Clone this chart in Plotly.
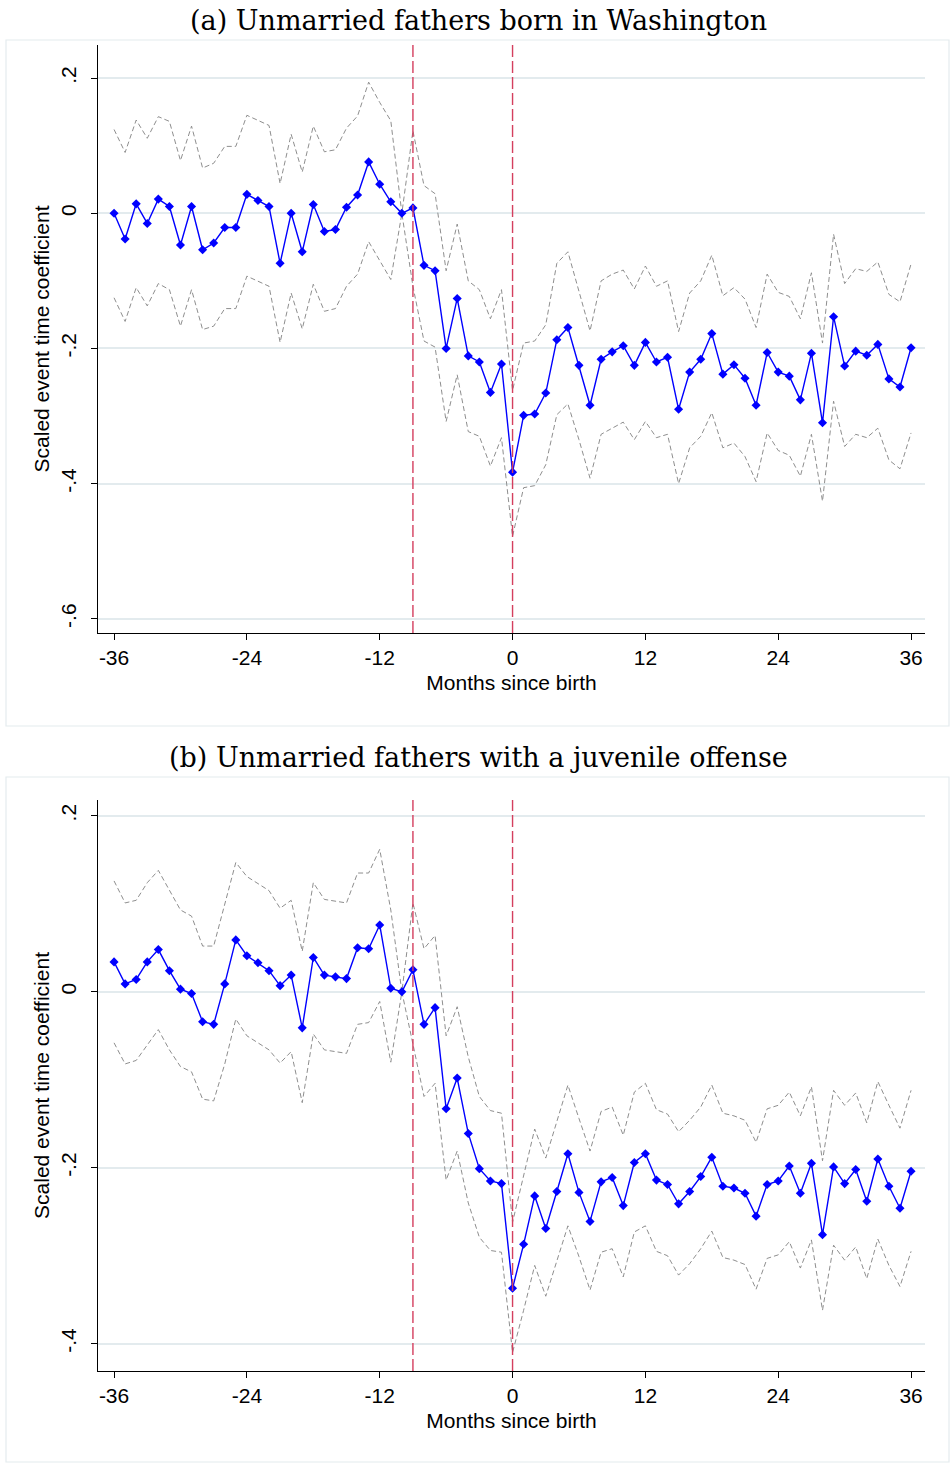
import plotly.graph_objects as go

# Event time in months relative to the birth
months = list(range(-36, 37))

# Panel (a): unmarried fathers born in Washington
a_est = [0, -0.038, 0.014, -0.015, 0.021, 0.010, -0.047, 0.010, -0.054, -0.044, -0.021, -0.021,
         0.028, 0.019, 0.010, -0.074, 0.0, -0.057,
         0.013, -0.027, -0.024, 0.009, 0.027, 0.076, 0.043, 0.017, 0.0, 0.008, -0.077, -0.085,
         -0.200, -0.126, -0.211, -0.220, -0.265, -0.223,
         -0.383,
         -0.299, -0.297, -0.266, -0.187, -0.169, -0.225, -0.284, -0.216, -0.205, -0.196, -0.225,
         -0.191, -0.220, -0.213, -0.290, -0.235, -0.216, -0.178,
         -0.238, -0.224, -0.244, -0.284, -0.206, -0.235, -0.241, -0.276, -0.207, -0.310, -0.153,
         -0.226, -0.204, -0.210, -0.194, -0.245, -0.257, -0.199]
a_hi = [0.124, 0.090, 0.138, 0.111, 0.143, 0.136, 0.078, 0.129, 0.067, 0.074, 0.099, 0.099,
        0.145, 0.137, 0.130, 0.044, 0.117, 0.061,
        0.129, 0.091, 0.094, 0.126, 0.144, 0.194, 0.164, 0.137, 0.0, 0.122, 0.041, 0.029,
        -0.085, -0.016, -0.100, -0.113, -0.156, -0.113,
        -0.262,
        -0.192, -0.189, -0.165, -0.074, -0.057, -0.115, -0.174, -0.100, -0.090, -0.084, -0.112,
        -0.078, -0.108, -0.100, -0.175, -0.118, -0.100, -0.062,
        -0.122, -0.110, -0.127, -0.169, -0.090, -0.117, -0.123, -0.156, -0.088, -0.192, -0.031,
        -0.104, -0.082, -0.086, -0.072, -0.120, -0.131, -0.075]
a_lo = [-0.125, -0.160, -0.110, -0.137, -0.104, -0.113, -0.167, -0.113, -0.172, -0.167, -0.141, -0.141,
        -0.093, -0.100, -0.108, -0.191, -0.118, -0.171,
        -0.105, -0.145, -0.141, -0.108, -0.090, -0.042, -0.071, -0.098, 0.0, -0.108, -0.189, -0.198,
        -0.308, -0.239, -0.323, -0.330, -0.374, -0.332,
        -0.478,
        -0.406, -0.403, -0.372, -0.298, -0.282, -0.335, -0.392, -0.327, -0.318, -0.309, -0.335,
        -0.308, -0.332, -0.327, -0.400, -0.347, -0.330, -0.295,
        -0.347, -0.340, -0.360, -0.397, -0.325, -0.351, -0.358, -0.389, -0.327, -0.426, -0.278,
        -0.345, -0.327, -0.332, -0.318, -0.365, -0.378, -0.325]

# Panel (b): unmarried fathers with a juvenile offense
b_est = [0.034, 0.009, 0.014, 0.034, 0.048, 0.024, 0.003, -0.002, -0.034, -0.037, 0.009, 0.059,
         0.041, 0.033, 0.024, 0.007, 0.019, -0.041,
         0.039, 0.019, 0.017, 0.015, 0.050, 0.049, 0.076, 0.004, 0.0, 0.025, -0.037, -0.018,
         -0.133, -0.098, -0.161, -0.201, -0.215, -0.218,
         -0.337,
         -0.287, -0.232, -0.269, -0.227, -0.184, -0.228, -0.261, -0.216, -0.211, -0.243, -0.194,
         -0.184, -0.214, -0.219, -0.241, -0.227, -0.210, -0.188,
         -0.221, -0.223, -0.229, -0.255, -0.219, -0.215, -0.198, -0.229, -0.195, -0.276, -0.199,
         -0.218, -0.202, -0.238, -0.190, -0.221, -0.246, -0.204]
b_hi = [0.126, 0.101, 0.104, 0.124, 0.138, 0.115, 0.093, 0.086, 0.052, 0.052, 0.101, 0.147,
        0.131, 0.123, 0.115, 0.095, 0.104, 0.046,
        0.124, 0.105, 0.103, 0.101, 0.135, 0.135, 0.162, 0.093, 0.0, 0.101, 0.049, 0.064,
        -0.050, -0.017, -0.074, -0.119, -0.135, -0.138,
        -0.262,
        -0.208, -0.156, -0.189, -0.147, -0.106, -0.144, -0.181, -0.136, -0.131, -0.163, -0.114,
        -0.104, -0.134, -0.139, -0.159, -0.146, -0.131, -0.106,
        -0.138, -0.141, -0.146, -0.171, -0.133, -0.129, -0.114, -0.141, -0.108, -0.192, -0.112,
        -0.129, -0.115, -0.149, -0.102, -0.129, -0.155, -0.112]
b_lo = [-0.058, -0.082, -0.078, -0.060, -0.043, -0.066, -0.085, -0.091, -0.122, -0.124, -0.082, -0.031,
        -0.050, -0.058, -0.066, -0.081, -0.068, -0.126,
        -0.048, -0.066, -0.068, -0.070, -0.037, -0.035, -0.011, -0.080, 0.0, -0.058, -0.119, -0.104,
        -0.214, -0.181, -0.240, -0.279, -0.294, -0.296,
        -0.410,
        -0.362, -0.311, -0.346, -0.305, -0.266, -0.301, -0.339, -0.296, -0.292, -0.324, -0.273,
        -0.266, -0.295, -0.300, -0.322, -0.309, -0.292, -0.272,
        -0.302, -0.305, -0.310, -0.338, -0.303, -0.299, -0.284, -0.314, -0.282, -0.362, -0.288,
        -0.305, -0.290, -0.326, -0.281, -0.311, -0.335, -0.295]

x_ticks = [-36, -24, -12, 0, 12, 24, 36]
x_labels = ["-36", "-24", "-12", "0", "12", "24", "36"]
a_yticks = [-0.6, -0.4, -0.2, 0, 0.2]
a_ylabels = ["-.6", "-.4", "-.2", "0", ".2"]
b_yticks = [-0.4, -0.2, 0, 0.2]
b_ylabels = ["-.4", "-.2", "0", ".2"]
event_lines = [-9, 0]

titles = ["(a) Unmarried fathers born in Washington",
          "(b) Unmarried fathers with a juvenile offense"]

W, H = 950, 1464
SANS = "Liberation Sans, Arial, sans-serif"
SERIF = "DejaVu Serif, Liberation Serif, serif"
BLUE = "#0000ff"
CI_GREY = "#8e8e8e"
RED = "#d43f5e"
GRID = "#e3ebee"
FRAME = "#e4ebee"


def py(pixel_y):
    return 1 - pixel_y / H


fig = go.Figure()

panels = [
    dict(est=a_est, hi=a_hi, lo=a_lo, xa="x", ya="y"),
    dict(est=b_est, hi=b_hi, lo=b_lo, xa="x2", ya="y2"),
]

for p in panels:
    for band in (p["hi"], p["lo"]):
        fig.add_trace(go.Scatter(
            x=months, y=band, mode="lines", xaxis=p["xa"], yaxis=p["ya"],
            line=dict(color=CI_GREY, width=1, dash="5px,3px"),
            hoverinfo="skip", showlegend=False))
    fig.add_trace(go.Scatter(
        x=months, y=p["est"], mode="lines+markers", xaxis=p["xa"], yaxis=p["ya"],
        line=dict(color=BLUE, width=1.4),
        marker=dict(symbol="diamond", size=7, color=BLUE),
        showlegend=False))

axis_common = dict(
    showline=True, linecolor="black", linewidth=1.3,
    ticks="outside", ticklen=6, tickwidth=1.3, tickcolor="black",
    tickfont=dict(family=SANS, size=21, color="black"),
    zeroline=False,
)

x_dom = [98 / W, 925 / W]
axis_title_font = dict(family=SANS, size=21, color="black")


def x_axis(anchor):
    return dict(domain=x_dom, anchor=anchor, range=[-37.45, 37.26],
                tickvals=x_ticks, ticktext=x_labels, showgrid=False,
                title=dict(text="Months since birth", font=axis_title_font, standoff=6),
                **axis_common)


def y_axis(anchor, dom, rng, vals, labels):
    return dict(domain=dom, anchor=anchor, range=rng,
                tickvals=vals, ticktext=labels, tickangle=-90, ticklabelstandoff=6,
                showgrid=True, gridcolor=GRID, gridwidth=1.5,
                title=dict(text="Scaled event time coefficient", font=axis_title_font, standoff=2),
                **axis_common)


fig.update_layout(
    width=W, height=H,
    margin=dict(l=0, r=0, t=0, b=0),
    paper_bgcolor="white", plot_bgcolor="white",
    xaxis=x_axis("y"),
    yaxis=y_axis("x", [py(633), py(45)], [-0.621, 0.249], a_yticks, a_ylabels),
    xaxis2=x_axis("y2"),
    yaxis2=y_axis("x2", [py(1371), py(800)], [-0.431, 0.218], b_yticks, b_ylabels),
)

shapes = []
# Light frames around each graph region
for top, bottom in [(40, 726), (777, 1462)]:
    shapes.append(dict(type="rect", xref="paper", yref="paper",
                       x0=6 / W, x1=949 / W, y0=py(bottom), y1=py(top),
                       line=dict(color=FRAME, width=1.2), fillcolor="rgba(0,0,0,0)",
                       layer="below"))
# Vertical reference lines at the event months
for xa, ya in [("x", "y"), ("x2", "y2")]:
    for m in event_lines:
        shapes.append(dict(type="line", xref=xa, yref=f"{ya} domain",
                           x0=m, x1=m, y0=0, y1=1,
                           line=dict(color=RED, width=1.4, dash="12px,4px")))
fig.update_layout(shapes=shapes)

for text, ypix in zip(titles, [20, 757]):
    fig.add_annotation(text=text, xref="paper", yref="paper",
                       x=478 / W, y=py(ypix), showarrow=False,
                       xanchor="center", yanchor="middle",
                       font=dict(family=SERIF, size=27, color="black"))

fig.write_html("out.html")
